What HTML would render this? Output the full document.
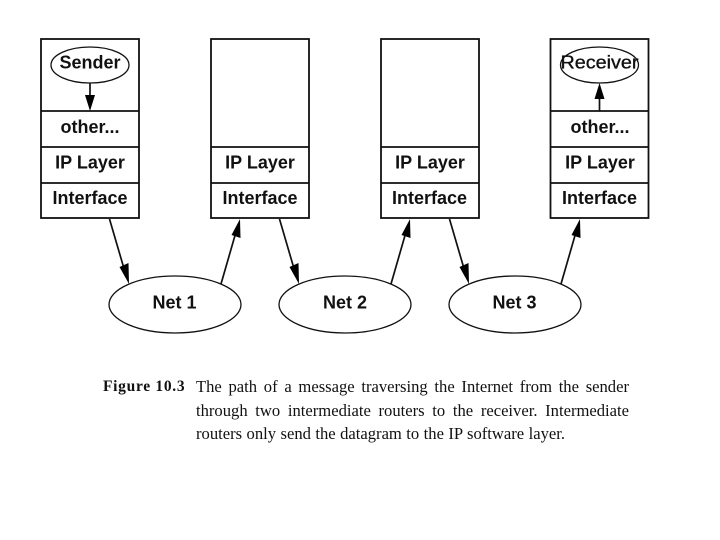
<!DOCTYPE html>
<html>
<head>
<meta charset="utf-8">
<style>
html,body{margin:0;padding:0;background:#fff;width:720px;height:540px;overflow:hidden}
svg{position:absolute;left:0;top:0;filter:blur(.35px)}
svg text{font-family:"Liberation Sans",sans-serif;font-size:18px;font-weight:bold;fill:#111;text-anchor:middle}
.cap{position:absolute;font-family:"Liberation Serif",serif;color:#111;white-space:nowrap;font-size:16.600px;line-height:18px;filter:blur(.3px)}
.j{left:196px;width:433px;white-space:normal;text-align:justify;text-align-last:justify}
</style>
</head>
<body>
<svg width="720" height="540" viewBox="0 0 720 540">
<g fill="none" stroke="#111" stroke-width="1.800">
<rect x="41" y="39" width="98" height="179"/>
<rect x="211" y="39" width="98" height="179"/>
<rect x="381" y="39" width="98" height="179"/>
<rect x="550.500" y="39" width="98" height="179"/>
<path d="M41 111H139M41 147H139M41 183H139"/>
<path d="M211 147H309M211 183H309"/>
<path d="M381 147H479M381 183H479"/>
<path d="M550.500 111H648.500M550.500 147H648.500M550.500 183H648.500"/>
</g>
<g fill="none" stroke="#111" stroke-width="1.300">
<ellipse cx="90" cy="65" rx="39" ry="18"/>
<ellipse cx="599.500" cy="65" rx="39" ry="18"/>
<ellipse cx="175" cy="304.500" rx="66" ry="28.500"/>
<ellipse cx="345" cy="304.500" rx="66" ry="28.500"/>
<ellipse cx="515" cy="304.500" rx="66" ry="28.500"/>
</g>
<g fill="none" stroke="#111" stroke-width="1.700">
<path d="M90 83V100M599.500 111V95"/>
<path d="M109.500 219L125 272M221 284L236 232M279.500 219L295 272M391 284L406 232M449.500 219L465 272M561 284L576 232"/>
</g>
<g fill="#000">
<polygon points="90,111 85,95 95,95"/>
<polygon points="599.500,83 594.500,99 604.500,99"/>
<polygon points="129,284 119.500,267 128.500,263"/>
<polygon points="240,219 240.500,238 231.500,235"/>
<polygon points="299,284 289.500,267 298.500,263"/>
<polygon points="410,219 410.500,238 401.500,235"/>
<polygon points="469,284 459.500,267 468.500,263"/>
<polygon points="580,219 580.500,238 571.500,235"/>
</g>
<text x="90" y="68.500">Sender</text>
<text x="599.500" y="68.500" textLength="78" lengthAdjust="spacingAndGlyphs" style="font-weight:normal;stroke:#111;stroke-width:.35px">Receiver</text>
<text x="90" y="133">other...</text>
<text x="600" y="133">other...</text>
<text x="90" y="168.500">IP Layer</text>
<text x="260" y="168.500">IP Layer</text>
<text x="430" y="168.500">IP Layer</text>
<text x="600" y="168.500">IP Layer</text>
<text x="90" y="204">Interface</text>
<text x="260" y="204">Interface</text>
<text x="429.500" y="204">Interface</text>
<text x="599.500" y="204">Interface</text>
<text x="174.500" y="308.500">Net 1</text>
<text x="345" y="308.500">Net 2</text>
<text x="514.500" y="308.500">Net 3</text>
</svg>
<div class="cap" style="left:103px;top:378px;font-weight:bold;font-size:15.500px;letter-spacing:.7px">Figure 10.3</div>
<div class="cap j" style="top:378px">The path of a message traversing the Internet from the sender</div>
<div class="cap j" style="top:402px">through two intermediate routers to the receiver. Intermediate</div>
<div class="cap j" style="top:425px;width:369px">routers only send the datagram to the IP software layer.</div>
</body>
</html>
